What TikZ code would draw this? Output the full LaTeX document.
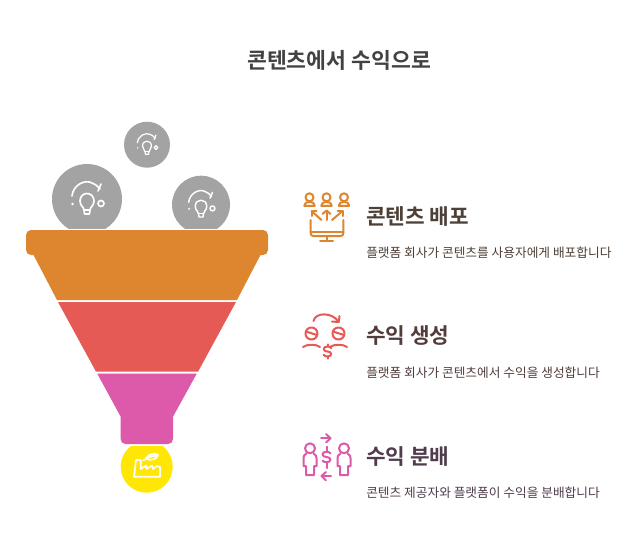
\documentclass[tikz,border=0pt]{standalone}
\usepackage{fontspec}
\setmainfont{Noto Sans CJK KR}
\newfontfamily\krbold{Noto Sans CJK KR Bold}
\definecolor{cOrange}{HTML}{DE852F}
\definecolor{cRed}{HTML}{E65A55}
\definecolor{cPink}{HTML}{DD5AAA}
\definecolor{cYellow}{HTML}{FFE605}
\definecolor{cGrey}{HTML}{A3A3A3}
\definecolor{tOne}{HTML}{4D4036}
\definecolor{tTwo}{HTML}{523C3C}
\definecolor{tThree}{HTML}{503C4D}
\tikzset{
  titletext/.style={inner sep=0pt,font=\krbold\fontsize{16.2pt}{18pt}\selectfont,text=black!74},
  headtext/.style={inner sep=0pt,anchor=west,font=\krbold\fontsize{16pt}{18pt}\selectfont},
  subtext/.style={inner sep=0pt,anchor=west,font=\fontsize{9.53pt}{12pt}\selectfont},
  iconline/.style={line width=1.5pt,line cap=round,line join=round,fill=none},
}
\newcommand{\bulbicon}[3]{%
  \begin{scope}[shift={(#1,#2)},scale=#3,draw=white,line width=#3*0.9pt+0.35pt,line cap=round,line join=round]
    \draw (-3,11) .. controls (-3,8) and (-7,7) .. (-7,2) .. controls (-7,-8) and (7,-8) .. (7,2) .. controls (7,7) and (3,8) .. (3,11) -- (2.4,15) -- (-2.4,15) -- cycle;
    \draw (-3,11) -- (3,11);
    \draw (-15,-3) .. controls (-14,-14) and (-2,-20) .. (5,-16) .. controls (8,-15) and (11,-13) .. (13,-10);
    \draw (14,-15) -- (11,-8);
    \draw (14,4.5) circle[radius=3];
    \fill[white] (-14.5,5) circle[radius=1.3];
  \end{scope}}
\newcommand{\dollaricon}[3]{%
  \begin{scope}[shift={(#1,#2)},scale=#3]
    \draw (4,-3.5) .. controls (3,-6) and (-4,-6) .. (-4,-2.5) .. controls (-4,1) and (4,-1) .. (4,2.5) .. controls (4,6) and (-3,6) .. (-4,3.5);
    \draw (0,-7.5) -- (0,-5.2);
    \draw (0,5.2) -- (0,7.5);
  \end{scope}}
\begin{document}
\begin{tikzpicture}[x=0.75pt,y=-0.75pt]
\useasboundingbox (0,0) rectangle (641,554);
\fill[white] (0,0) rectangle (641,554);

% grey circles
\fill[cGrey] (147,144.7) circle[radius=23];
\fill[cGrey] (87,199) circle[radius=35];
\fill[cGrey] (201,204.7) circle[radius=29];
\bulbicon{147}{144.7}{0.64}
\bulbicon{87}{199}{1}
\bulbicon{201}{204.7}{0.82}
\fill[white] (40,228.5) rectangle (250,235);

% yellow circle
\fill[cYellow] (146.7,466.7) circle[radius=26];

% funnel
\fill[cOrange] (33,254) -- (261,254) -- (237,300) -- (57,300) -- cycle;
\fill[cOrange,rounded corners=3.75pt] (26,230) rectangle (268,255);
\fill[cRed] (58,302) -- (236,302) -- (198,371.7) -- (96,371.7) -- cycle;
\fill[white] (110,440) rectangle (185,445.7);
\fill[cPink] (97.3,373.7) -- (196.7,373.7) -- (173,416.7) -- (173,439) .. controls (173,442) and (171,444) .. (168,444) -- (125.7,444) .. controls (122.7,444) and (120.7,442) .. (120.7,439) -- (120.7,416.7) -- cycle;

% factory icon
\begin{scope}[draw=white,line width=1.25pt,line join=round,line cap=round]
  \draw (134,476.7) -- (136,460) -- (140.7,460) -- (140.7,469) -- (146,465.5) -- (146.5,469) -- (152,465.5) -- (153,469) -- (157,466) -- (160,467) -- (160,476.7) -- cycle;
  \draw (143,460.5) -- (150,457);
  \draw (146,458) .. controls (149,453.5) and (156,453) .. (158,455) .. controls (157,459) and (150,462) .. (146,458) -- (158,455);
\end{scope}

% texts
\node[titletext] (title) at (339,60) {콘텐츠에서 수익으로};
\node[headtext,text=tOne] (h1) at (366,216) {콘텐츠 배포};
\node[subtext,text=tOne] (s1) at (366,252.5) {플랫폼 회사가 콘텐츠를 사용자에게 배포합니다};
\node[headtext,text=tTwo] (h2) at (366,336) {수익 생성};
\node[subtext,text=tTwo] (s2) at (366,372.5) {플랫폼 회사가 콘텐츠에서 수익을 생성합니다};
\node[headtext,text=tThree] (h3) at (366,456) {수익 분배};
\node[subtext,text=tThree] (s3) at (366,492.5) {콘텐츠 제공자와 플랫폼이 수익을 분배합니다};

% icon 1
\begin{scope}[iconline,draw=cOrange]
  \foreach \x in {309.5,326.5,344}{
    \draw (\x,197.3) circle[radius=4];
    \draw (\x-5.3,205.8) .. controls (\x-5.3,200.5) and (\x+5.3,200.5) .. (\x+5.3,205.8) -- cycle;
  }
  \draw (321.5,220) -- (311.5,211);
  \draw (311.5,216) -- (311.5,211) -- (316.5,211);
  \draw (326.5,220) -- (326.5,210.5);
  \draw (322.5,214) -- (326.5,210.5) -- (330.5,214);
  \draw (332,220) -- (342.5,211);
  \draw (337.5,211) -- (342.5,211) -- (342.5,216);
  \draw (310.7,220) -- (310.7,233) .. controls (310.7,235) and (311.5,236) .. (313.5,236) -- (340.5,236) .. controls (342.5,236) and (343.3,235) .. (343.3,233) -- (343.3,220);
  \draw (310.7,231.7) -- (343.3,231.7);
  \draw (326.5,236) -- (326.5,240);
  \draw (320,240.5) -- (333,240.5);
\end{scope}

% icon 2
\begin{scope}[iconline,draw=cRed]
  \draw (313.5,321) .. controls (315,312) and (333,312) .. (338.5,322);
  \draw (332,321.5) -- (338.8,322) -- (339.5,316);
  \foreach \x in {311.5,338.5}{
    \draw (\x,333.5) circle[radius=6];
    \draw (\x-5.5,331.5) -- (\x+5.5,335);
    \draw (\x-8.5,347) .. controls (\x-5,344) and (\x+5,344) .. (\x+8.5,347);
  }
  \dollaricon{327.5}{351.5}{0.95}
\end{scope}

% icon 3
\begin{scope}[iconline,draw=cPink]
  \draw (321,438.3) -- (330,438.3);
  \draw (326,434) -- (330.5,438.3) -- (326,442.5);
  \draw (331,476) -- (322,476);
  \draw (326,472) -- (321.5,476) -- (326,480.5);
  \foreach \x in {310,344}{
    \draw (\x,448.3) circle[radius=5];
    \draw (\x-3.5,453.5) .. controls (\x-6,455) and (\x-6.5,456) .. (\x-6.5,458) -- (\x-6.5,466) -- (\x-4,466) -- (\x-4,475) -- (\x+4,475) -- (\x+4,466) -- (\x+6.5,466) -- (\x+6.5,458) .. controls (\x+6.5,456) and (\x+6,455) .. (\x+3.5,453.5);
  }
  \dollaricon{326.5}{457}{1.0}
  \draw (326.5,446.5) -- (326.5,449);
  \draw (326.5,465) -- (326.5,468);
\end{scope}
\end{tikzpicture}
\end{document}
